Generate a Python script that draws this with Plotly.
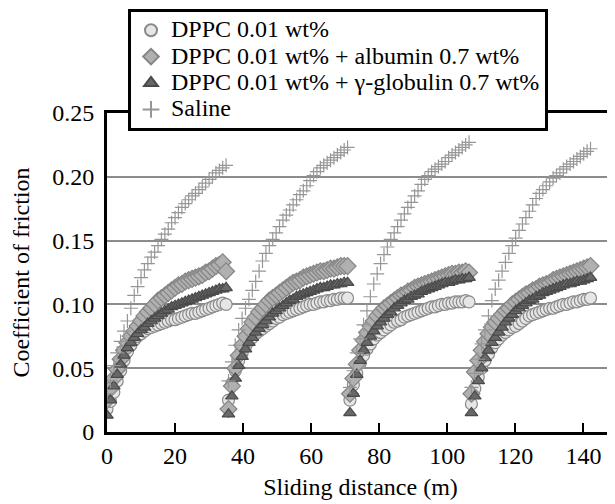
import plotly.graph_objects as go

# ---------------- data ----------------
cycle_starts = [0.0, 35.7, 71.4, 107.1]
offsets = [0, 1, 2, 3, 4, 5, 6, 7, 8, 9, 10, 11, 12, 13, 14, 15, 16, 17,
           18, 19, 20, 21, 22, 23, 24, 25, 26, 27, 28, 29, 30, 31, 32, 33, 34, 35]

series_names = ["DPPC 0.01 wt%",
                "DPPC 0.01 wt% + albumin 0.7 wt%",
                "DPPC 0.01 wt% + γ-globulin 0.7 wt%",
                "Saline"]

dppc = [
    [0.018, 0.024, 0.031, 0.040, 0.048, 0.056, 0.063, 0.068, 0.072, 0.075, 0.077, 0.079,
     0.081, 0.082, 0.083, 0.084, 0.085, 0.086, 0.087, 0.088, 0.088, 0.089, 0.090, 0.091,
     0.092, 0.093, 0.093, 0.094, 0.095, 0.096, 0.097, 0.098, 0.099, 0.100, 0.101, 0.100],
    [0.025, 0.038, 0.048, 0.056, 0.062, 0.067, 0.071, 0.074, 0.077, 0.079, 0.081, 0.083,
     0.085, 0.087, 0.089, 0.090, 0.092, 0.093, 0.094, 0.095, 0.096, 0.097, 0.098, 0.099,
     0.100, 0.100, 0.101, 0.102, 0.102, 0.103, 0.103, 0.104, 0.104, 0.105, 0.105, 0.105],
    [0.025, 0.037, 0.046, 0.054, 0.060, 0.065, 0.069, 0.073, 0.076, 0.078, 0.080, 0.082,
     0.084, 0.086, 0.087, 0.088, 0.090, 0.091, 0.092, 0.093, 0.094, 0.095, 0.096, 0.097,
     0.098, 0.098, 0.099, 0.100, 0.100, 0.101, 0.101, 0.102, 0.102, 0.102, 0.103, 0.102],
    [0.022, 0.034, 0.043, 0.050, 0.056, 0.061, 0.066, 0.070, 0.073, 0.076, 0.078, 0.080,
     0.082, 0.083, 0.085, 0.087, 0.089, 0.091, 0.092, 0.093, 0.094, 0.095, 0.096, 0.097,
     0.097, 0.098, 0.099, 0.100, 0.100, 0.101, 0.102, 0.102, 0.103, 0.104, 0.104, 0.105],
]

albumin = [
    [0.025, 0.034, 0.042, 0.049, 0.057, 0.064, 0.070, 0.075, 0.079, 0.083, 0.087, 0.091,
     0.094, 0.097, 0.100, 0.103, 0.105, 0.107, 0.109, 0.111, 0.113, 0.115, 0.116, 0.118,
     0.119, 0.120, 0.121, 0.122, 0.123, 0.125, 0.126, 0.128, 0.130, 0.131, 0.133, 0.126],
    [0.018, 0.036, 0.050, 0.060, 0.068, 0.075, 0.081, 0.086, 0.090, 0.094, 0.097, 0.100,
     0.103, 0.105, 0.107, 0.109, 0.111, 0.113, 0.115, 0.117, 0.118, 0.119, 0.121, 0.122,
     0.123, 0.124, 0.125, 0.126, 0.126, 0.127, 0.128, 0.128, 0.129, 0.130, 0.130, 0.130],
    [0.030, 0.042, 0.053, 0.064, 0.072, 0.078, 0.083, 0.087, 0.091, 0.094, 0.097, 0.099,
     0.101, 0.103, 0.105, 0.107, 0.108, 0.110, 0.111, 0.113, 0.114, 0.115, 0.116, 0.117,
     0.118, 0.119, 0.120, 0.121, 0.122, 0.123, 0.124, 0.124, 0.125, 0.125, 0.126, 0.125],
    [0.030, 0.047, 0.056, 0.064, 0.071, 0.077, 0.082, 0.086, 0.089, 0.092, 0.095, 0.097,
     0.100, 0.102, 0.104, 0.106, 0.108, 0.109, 0.111, 0.112, 0.114, 0.115, 0.116, 0.117,
     0.119, 0.120, 0.121, 0.122, 0.123, 0.124, 0.125, 0.126, 0.127, 0.128, 0.129, 0.130],
]

globulin = [
    [0.013, 0.025, 0.036, 0.045, 0.053, 0.060, 0.066, 0.070, 0.074, 0.077, 0.080, 0.082,
     0.085, 0.087, 0.089, 0.091, 0.093, 0.095, 0.096, 0.098, 0.099, 0.100, 0.101, 0.102,
     0.103, 0.104, 0.105, 0.106, 0.107, 0.108, 0.109, 0.110, 0.111, 0.112, 0.112, 0.113],
    [0.014, 0.028, 0.042, 0.052, 0.059, 0.065, 0.070, 0.074, 0.078, 0.081, 0.084, 0.087,
     0.090, 0.093, 0.095, 0.097, 0.099, 0.101, 0.103, 0.104, 0.106, 0.107, 0.108, 0.109,
     0.110, 0.111, 0.112, 0.113, 0.113, 0.114, 0.115, 0.115, 0.116, 0.116, 0.117, 0.117],
    [0.015, 0.030, 0.045, 0.056, 0.064, 0.070, 0.075, 0.079, 0.083, 0.086, 0.089, 0.092,
     0.094, 0.097, 0.099, 0.101, 0.103, 0.104, 0.106, 0.107, 0.108, 0.110, 0.111, 0.112,
     0.113, 0.114, 0.115, 0.116, 0.117, 0.117, 0.118, 0.119, 0.119, 0.120, 0.120, 0.121],
    [0.015, 0.028, 0.040, 0.050, 0.058, 0.064, 0.070, 0.074, 0.078, 0.082, 0.086, 0.089,
     0.092, 0.095, 0.097, 0.099, 0.101, 0.103, 0.104, 0.106, 0.107, 0.109, 0.110, 0.111,
     0.112, 0.113, 0.114, 0.115, 0.116, 0.116, 0.117, 0.118, 0.118, 0.119, 0.120, 0.121],
]

saline = [
    [0.030, 0.040, 0.052, 0.062, 0.071, 0.079, 0.087, 0.097, 0.107, 0.114, 0.121, 0.127,
     0.132, 0.137, 0.141, 0.146, 0.151, 0.155, 0.159, 0.164, 0.168, 0.172, 0.176, 0.179,
     0.182, 0.185, 0.187, 0.190, 0.192, 0.195, 0.198, 0.200, 0.203, 0.205, 0.207, 0.209],
    [0.040, 0.055, 0.068, 0.080, 0.089, 0.097, 0.104, 0.111, 0.118, 0.126, 0.134, 0.140,
     0.146, 0.151, 0.156, 0.161, 0.166, 0.170, 0.174, 0.178, 0.182, 0.186, 0.189, 0.193,
     0.197, 0.201, 0.204, 0.207, 0.209, 0.211, 0.213, 0.215, 0.217, 0.219, 0.221, 0.223],
    [0.035, 0.048, 0.062, 0.073, 0.084, 0.095, 0.106, 0.116, 0.124, 0.132, 0.139, 0.145,
     0.151, 0.156, 0.161, 0.166, 0.171, 0.176, 0.180, 0.185, 0.189, 0.194, 0.198, 0.201,
     0.204, 0.206, 0.208, 0.210, 0.212, 0.215, 0.217, 0.219, 0.221, 0.223, 0.225, 0.227],
    [0.035, 0.046, 0.057, 0.069, 0.080, 0.091, 0.103, 0.112, 0.119, 0.126, 0.133, 0.140,
     0.146, 0.152, 0.158, 0.163, 0.168, 0.173, 0.178, 0.183, 0.187, 0.190, 0.193, 0.196,
     0.199, 0.201, 0.203, 0.206, 0.208, 0.210, 0.212, 0.214, 0.216, 0.218, 0.220, 0.222],
]

x_tick_vals = [0, 20, 40, 60, 80, 100, 120, 140]
y_tick_vals = [0, 0.05, 0.10, 0.15, 0.20, 0.25]
y_tick_text = ["0", "0.05", "0.10", "0.15", "0.20", "0.25"]

# ---------------- figure ----------------
def flat_x():
    xs = []
    for s in cycle_starts:
        xs += [s + o for o in offsets]
    return xs

def flat_y(series):
    ys = []
    for c in series:
        ys += c
    return ys

FONT = "Liberation Serif"
styles = [
    dict(symbol="circle", size=12, color="#e6e6e6", line=dict(color="#8a8a8a", width=1.2)),
    dict(symbol="diamond", size=13, color="#b0b0b0", line=dict(color="#858585", width=1.2)),
    dict(symbol="triangle-up", size=11, color="#686868", line=dict(color="#4a4a4a", width=1.2)),
    dict(symbol="cross-thin-open", size=10, color="#969696", line=dict(color="#969696", width=1.2)),
]

# the page body adds an 8 px offset, so the figure is 8 px smaller
W, H = 607, 496

fig = go.Figure()
xs = flat_x()
for name, series, st in zip(series_names, [dppc, albumin, globulin, saline], styles):
    fig.add_trace(go.Scatter(
        x=xs, y=flat_y(series), mode="markers",
        name='<span style="font-size:24px">' + name + '</span>',
        marker=st,
    ))

fig.update_layout(
    width=W, height=H,
    margin=dict(l=99, r=1, t=105, b=72),
    paper_bgcolor="white", plot_bgcolor="white",
    font=dict(family=FONT, size=24, color="black"),
    showlegend=True,
    legend=dict(
        x=(120 - 99) / (W - 100), y=1 + (105 - 1) / (H - 177),
        xanchor="left", yanchor="top",
        bgcolor="white", bordercolor="black", borderwidth=3,
        font=dict(family=FONT, size=18, color="black"),
        itemsizing="constant",
        tracegroupgap=0,
    ),
    xaxis=dict(
        range=[0, 149], showgrid=False, zeroline=False,
        showline=True, linecolor="black", linewidth=3, mirror=True,
        ticks="inside", ticklen=9, tickwidth=1.5, tickcolor="black",
        tickvals=x_tick_vals,
        tickfont=dict(family=FONT, size=24, color="black"),
        title=dict(text="Sliding distance (m)", standoff=11,
                   font=dict(family=FONT, size=24, color="black")),
    ),
    yaxis=dict(
        range=[0, 0.25], zeroline=False,
        showgrid=True, gridcolor="#8c8c8c", gridwidth=1.5,
        showline=True, linecolor="black", linewidth=3,
        ticks="outside", ticklen=5, tickcolor="rgba(0,0,0,0)",
        tickvals=y_tick_vals, ticktext=y_tick_text,
        tickfont=dict(family=FONT, size=24, color="black"),
        title=dict(text="Coefficient of friction", standoff=16,
                   font=dict(family=FONT, size=24, color="black")),
    ),
)

fig.write_html("out.html")
